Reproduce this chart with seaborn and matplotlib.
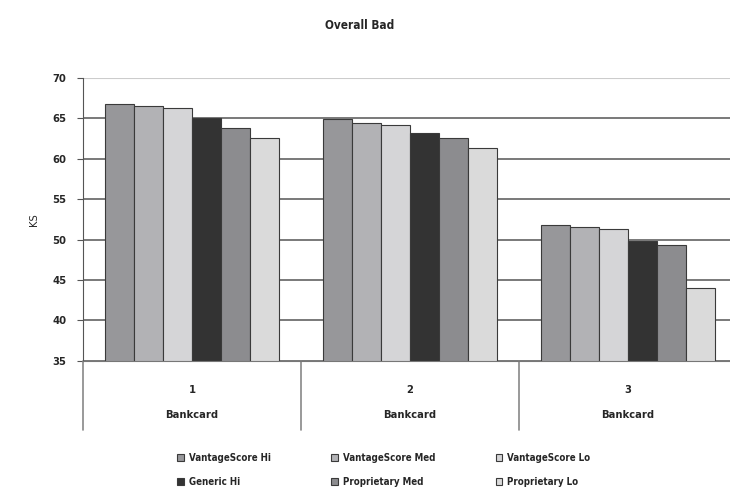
import pandas as pd
import matplotlib.pyplot as plt
import matplotlib.transforms as mtransforms
import seaborn as sns

# Values
groups = ['1', '2', '3']
group_label = 'Bankcard'
series = ['VantageScore Hi', 'VantageScore Med', 'VantageScore Lo',
          'Generic Hi', 'Proprietary Med', 'Proprietary Lo']
vs_hi = [66.8, 64.9, 51.8]
vs_med = [66.5, 64.4, 51.5]
vs_lo = [66.2, 64.1, 51.3]
generic_hi = [65.0, 63.2, 49.8]
prop_med = [63.8, 62.5, 49.3]
prop_lo = [62.5, 61.3, 44.0]
colors = ['#96969b', '#b1b1b6', '#d5d5d7', '#333333', '#8b8b90', '#dadada']

values = [vs_hi, vs_med, vs_lo, generic_hi, prop_med, prop_lo]
rows = []
for name, vals in zip(series, values):
    for g, v in zip(groups, vals):
        rows.append({'group': g, 'series': name, 'KS': v})
df = pd.DataFrame(rows)

sns.set_style('white')
plt.rcParams['font.family'] = ['DejaVu Sans']
plt.rcParams['font.stretch'] = 'condensed'
plt.rcParams['font.weight'] = 'bold'

fig = plt.figure(figsize=(7.3, 4.95), dpi=100)
ax = fig.add_axes([0.114, 0.271, 0.895, 0.572])

sns.barplot(data=df, x='group', y='KS', hue='series', palette=colors,
            edgecolor='#3a3a3a', linewidth=0.8, width=0.8, ax=ax)

ax.set_ylim(35, 70)
ax.set_xlim(-0.5, 2.5)
ax.set_yticks(range(35, 71, 5))
ax.set_axisbelow(True)
ax.yaxis.grid(True, color='#555555', linewidth=1.1)
ax.get_ygridlines()[-1].set_color('#cccccc')
ax.get_ygridlines()[-1].set_linewidth(1.5)
ax.tick_params(axis='y', left=True, length=4, color='#555555', labelsize=8, pad=8)
ax.tick_params(axis='x', bottom=False, labelsize=8, pad=14)
ax.set_ylabel('KS', fontsize=8, labelpad=10)
ax.set_xlabel('')
for s in ['top', 'right']:
    ax.spines[s].set_visible(False)
ax.spines['left'].set_color('#555555')
ax.spines['bottom'].set_color('#777777')

# multi-level category axis: separators and second label row
trans = mtransforms.blended_transform_factory(ax.transData, ax.transAxes)
for xs in [-0.5, 0.5, 1.5, 2.5]:
    ax.plot([xs, xs], [0, -0.245], transform=trans, color='#888888',
            linewidth=1.2, clip_on=False)
for i in range(len(groups)):
    ax.text(i, -0.19, group_label, transform=trans, ha='center', va='center',
            fontsize=8)

fig.text(0.493, 0.948, 'Overall Bad', ha='center', va='center', fontsize=8.5)

# legend in three columns, row-wise order like the reference
handles, labels = ax.get_legend_handles_labels()
order = [0, 3, 1, 4, 2, 5]
ax.legend([handles[i] for i in order], [labels[i] for i in order],
          ncol=3, loc='center', bbox_to_anchor=(0.46, -0.385),
          frameon=False, fontsize=7, handlelength=0.7, handleheight=0.7,
          columnspacing=6.2, handletextpad=0.5, labelspacing=1.4)

fig.savefig('out.png', dpi=100)
